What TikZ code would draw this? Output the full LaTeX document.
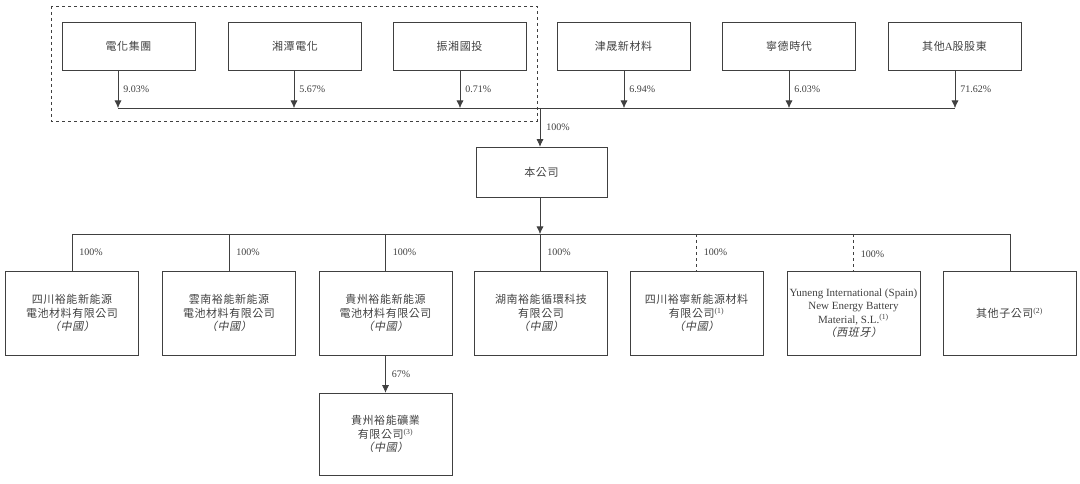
\documentclass[tikz,border=0pt]{standalone}
\usepackage{fontspec}
\setmainfont{Liberation Serif}
\newfontfamily\cjk[LetterSpace=5]{Noto Sans CJK TC}
\newfontfamily\cjkit[LetterSpace=5,FakeSlant=0.2]{Noto Sans CJK TC}
\usepackage{tikz}
\usetikzlibrary{arrows.meta}

\begin{document}
\begin{tikzpicture}[
        x=1pt, y=-1pt,
        holder/.style={draw,minimum width=133pt,minimum height=48pt,inner sep=0pt,font=\cjk\fontsize{11}{13}\selectfont},
        company/.style={draw,minimum width=131pt,minimum height=50pt,inner sep=0pt,font=\cjk\fontsize{11}{13}\selectfont},
        subsid/.style={draw,minimum width=133pt,minimum height=84pt,inner sep=0pt,align=center,font=\cjk\fontsize{11}{13.5}\selectfont},
        pct/.style={anchor=west,inner sep=0pt,font=\fontsize{10}{12}\selectfont},
        every path/.append style={semithick,black!75},
        >={Latex[length=7.5pt,width=7pt]}
    ]
        \useasboundingbox (0,0) rectangle (1080,484);

        % shareholders
        \node [holder] (dh) at (128.5,46) {電化集團};
        \node [holder] (xt) at (295,46)   {湘潭電化};
        \node [holder] (zx) at (459.5,46) {振湘國投};
        \node [holder] (js) at (623.5,46) {津晟新材料};
        \node [holder] (nd) at (789,46)   {寧德時代};
        \node [holder] (qt) at (954.5,46) {其他{\rmfamily A}股股東};

        \draw [dashed] (51,6) rectangle (537,121);

        \coordinate (b1) at (118,108);
        \coordinate (b2) at (294,108);
        \coordinate (b3) at (460,108);
        \coordinate (b4) at (624,108);
        \coordinate (b5) at (789,108);
        \coordinate (b6) at (955,108);
        \coordinate (b0) at (540,108);

        \draw [->] (dh.south -| b1) -- node[pct,xshift=5pt]{9.03\%}  (b1);
        \draw [->] (xt.south -| b2) -- node[pct,xshift=5pt]{5.67\%}  (b2);
        \draw [->] (zx.south -| b3) -- node[pct,xshift=5pt]{0.71\%}  (b3);
        \draw [->] (js.south -| b4) -- node[pct,xshift=5pt]{6.94\%}  (b4);
        \draw [->] (nd.south -| b5) -- node[pct,xshift=5pt]{6.03\%}  (b5);
        \draw [->] (qt.south -| b6) -- node[pct,xshift=5pt]{71.62\%} (b6);
        \draw (b1) -- (b6);

        % the company
        \node [company] (co) at (541.5,172) {本公司};
        \draw [->] (b0) -- node[pct,xshift=6pt]{100\%} (co.north -| b0);

        \coordinate (s0) at (540,234);
        \coordinate (s1) at (72,234);
        \coordinate (s7) at (1010,234);
        \draw [->] (co.south -| s0) -- (s0);
        \draw (s1) -- (s7);

        % subsidiaries
        \node [subsid] (sc) at (72,313)     {四川裕能新能源\\電池材料有限公司\\{\cjkit （中國）}};
        \node [subsid] (yn) at (229,313)    {雲南裕能新能源\\電池材料有限公司\\{\cjkit （中國）}};
        \node [subsid] (gz) at (385.5,313)  {貴州裕能新能源\\電池材料有限公司\\{\cjkit （中國）}};
        \node [subsid] (hn) at (541,313)    {湖南裕能循環科技\\有限公司\\{\cjkit （中國）}};
        \node [subsid] (sn) at (696.5,313)  {四川裕寧新能源材料\\有限公司\textsuperscript{\rmfamily(1)}\\{\cjkit （中國）}};
        \node [subsid] (es) at (853.5,313)  {{\rmfamily Yuneng International (Spain)}\\{\rmfamily New Energy Battery}\\{\rmfamily Material, S.L.\textsuperscript{(1)}}\\{\cjkit （西班牙）}};
        \node [subsid] (ot) at (1009.5,313) {其他子公司\textsuperscript{\rmfamily(2)}};

        \draw (s1) -- node[pct,xshift=7pt]{100\%} (sc.north);
        \draw (yn.north |- s1) -- node[pct,xshift=7pt]{100\%} (yn.north);
        \draw (gz.north |- s1) -- node[pct,xshift=7pt]{100\%} (gz.north);
        \draw (s0) -- node[pct,xshift=7pt]{100\%} (hn.north -| s0);
        \draw [dashed] (sn.north |- s1) -- node[pct,xshift=7pt]{100\%} (sn.north);
        \draw [dashed] (es.north |- s1) -- node[pct,xshift=7pt,yshift=-2pt]{100\%} (es.north);
        \draw (s7) -- (ot.north -| s7);

        \node [subsid,minimum height=82pt] (gk) at (385.5,434) {貴州裕能礦業\\有限公司\textsuperscript{\rmfamily(3)}\\{\cjkit （中國）}};
        \draw [->] (gz.south) -- node[pct,xshift=6pt]{67\%} (gk.north);
    \end{tikzpicture}
\end{document}
